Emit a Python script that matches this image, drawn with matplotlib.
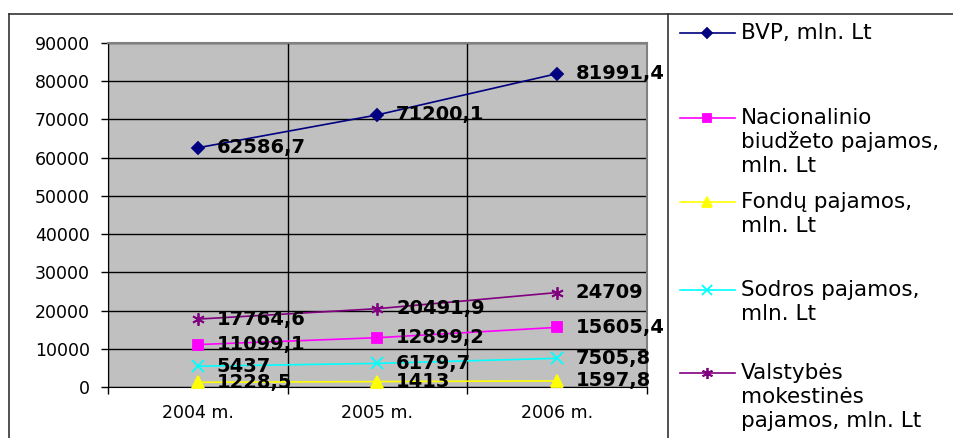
import matplotlib
matplotlib.use("Agg")
import matplotlib.pyplot as plt
from matplotlib.lines import Line2D

plt.rcParams['font.family'] = ['DejaVu Sans']

years = ['2004 m.', '2005 m.', '2006 m.']
bvp = [62586.7, 71200.1, 81991.4]
nacionalinio = [11099.1, 12899.2, 15605.4]
fondu = [1228.5, 1413, 1597.8]
sodros = [5437, 6179.7, 7505.8]
valstybes = [17764.6, 20491.9, 24709]

labels = ['BVP, mln. Lt',
          'Nacionalinio\nbiudžeto pajamos,\nmln. Lt',
          'Fondų pajamos,\nmln. Lt',
          'Sodros pajamos,\nmln. Lt',
          'Valstybės\nmokestinės\npajamos, mln. Lt']

series = [bvp, nacionalinio, fondu, sodros, valstybes]
colors = ['#000080', '#FF00FF', '#FFFF00', '#00FFFF', '#800080']
markers = ['D', 's', '^', 'x', (6, 2, 0)]
msizes = [6.5, 7, 8, 8, 9]

W, H = 954, 438
fig = plt.figure(figsize=(W / 100, H / 100), dpi=100)

def fx(px):
    return px / W

def fy(py):
    return 1 - py / H

ax = fig.add_axes([fx(108), fy(387), fx(647) - fx(108), fy(43) - fy(387)])
ax.set_facecolor('#C0C0C0')

x = list(range(len(years)))
for vals, c, m, ms in zip(series, colors, markers, msizes):
    ax.plot(x, vals, color=c, lw=1.2, marker=m, ms=ms, mew=1.3,
            mfc=c, mec=c, zorder=3, clip_on=False)
    for xi, v in zip(x, vals):
        txt = f"{v:g}".replace('.', ',')
        ax.annotate(txt, (xi, v), xytext=(13.5, 0), textcoords='offset points',
                    ha='left', va='center', fontsize=14, fontweight='bold',
                    color='black', zorder=4, annotation_clip=False)

ax.set_xlim(-0.5, 2.5)
ax.set_ylim(0, 90000)
ax.set_yticks(range(0, 90001, 10000))
ax.set_xticks(x)
ax.set_xticklabels(years)
ax.set_xticks([-0.5, 0.5, 1.5, 2.5], minor=True)
ax.tick_params(axis='x', which='major', length=0, pad=12, labelsize=12.5)
ax.tick_params(axis='x', which='minor', length=5, width=1, color='black')
ax.tick_params(axis='y', length=5, width=1, pad=8, labelsize=12.5)
ax.grid(axis='y', which='major', color='black', lw=1)
ax.grid(axis='x', which='minor', color='black', lw=1)
ax.set_axisbelow(True)
for s in ['left', 'bottom']:
    ax.spines[s].set_color('black')
for s in ['top', 'right']:
    ax.spines[s].set_color('#808080')
    ax.spines[s].set_linewidth(1.5)

# outer frame and legend separator
fig.add_artist(Line2D([fx(9), fx(9)], [0, fy(14)], color='#333333', lw=1.2))
fig.add_artist(Line2D([fx(9), 1], [fy(14), fy(14)], color='#333333', lw=1.2))
fig.add_artist(Line2D([fx(668), fx(668)], [0, fy(14)], color='#333333', lw=1.2))

# legend
entry_y = [33, 118, 202, 290, 373]
for lab, c, m, ms, y0 in zip(labels, colors, markers, msizes, entry_y):
    fig.add_artist(Line2D([fx(680), fx(735)], [fy(y0), fy(y0)], color=c, lw=1.2))
    fig.add_artist(Line2D([fx(707)], [fy(y0)], color=c, marker=m, ms=ms - 1,
                          mew=1.3, mfc=c, mec=c))
    for i, line in enumerate(lab.split('\n')):
        fig.text(fx(741), fy(y0 + 24 * i), line, ha='left', va='center',
                 fontsize=15.5, color='black')

fig.savefig('out.png', dpi=100)
